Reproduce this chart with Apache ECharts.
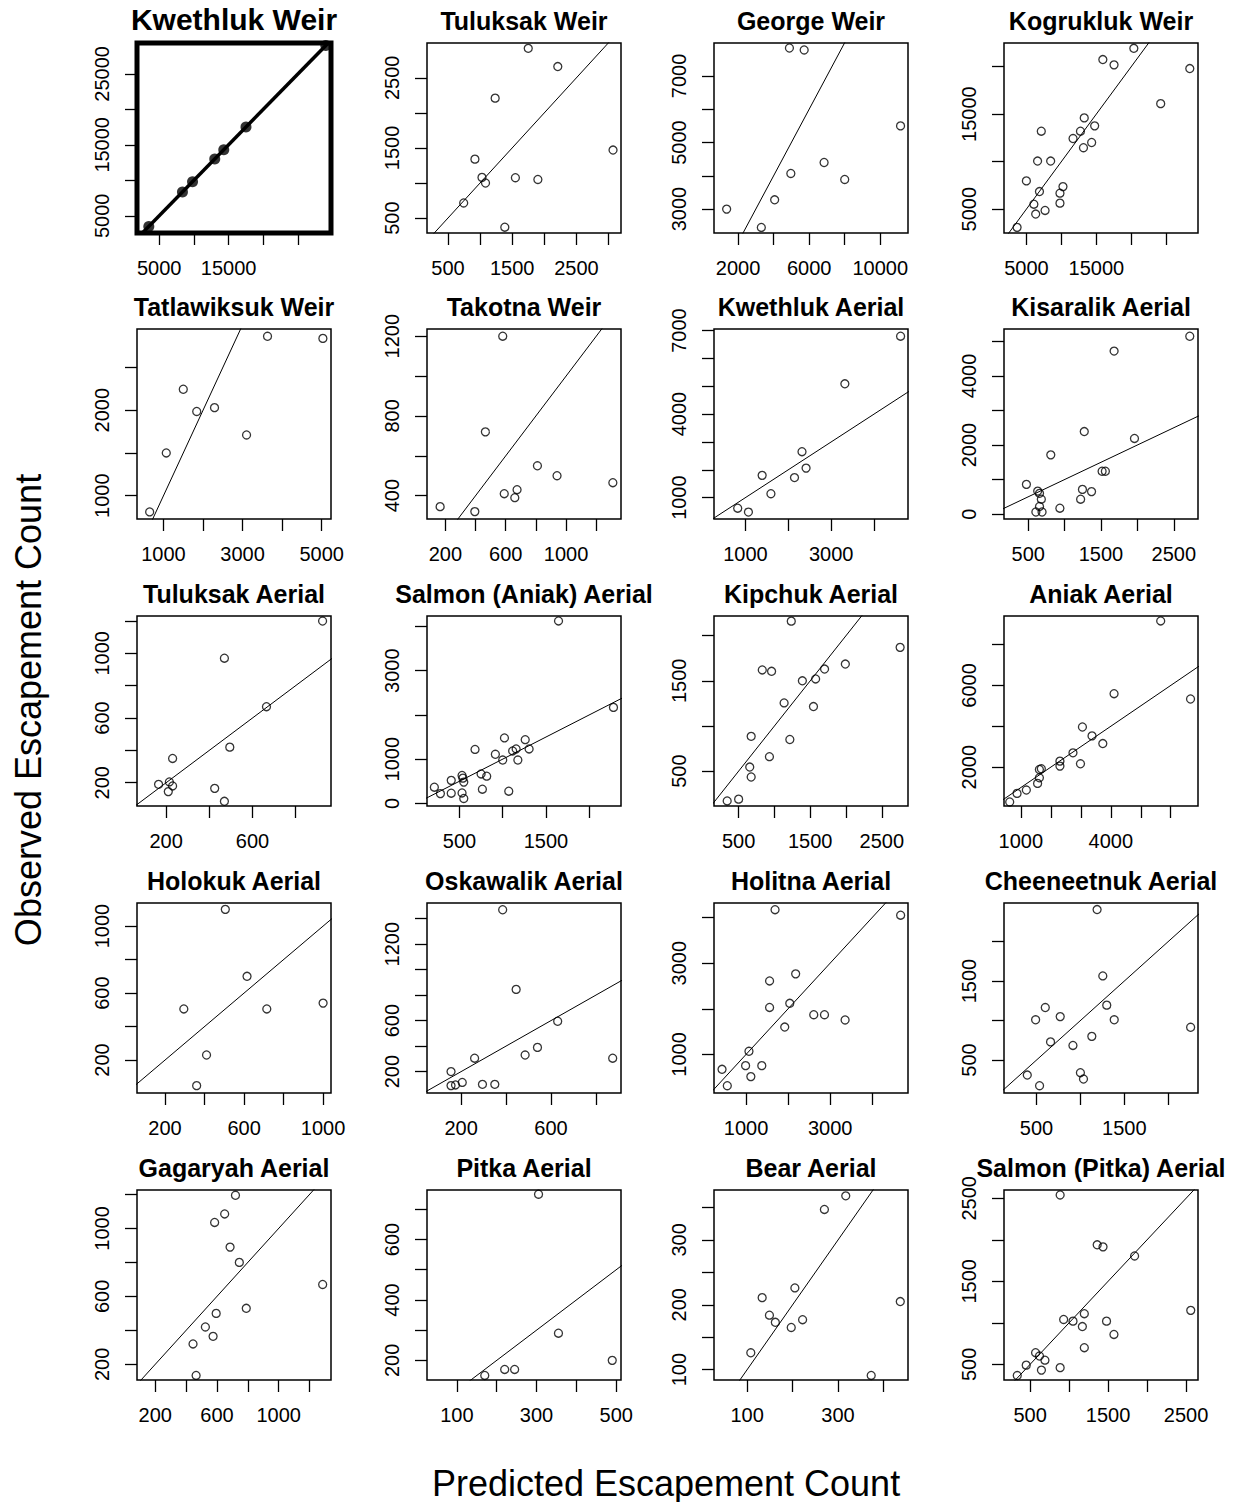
<!DOCTYPE html>
<html>
<head>
<meta charset="utf-8">
<title>Observed vs Predicted Escapement Count</title>
<script src="https://cdn.jsdelivr.net/npm/echarts@6.0.0/dist/echarts.min.js"></script>
<style>
  html, body { margin: 0; padding: 0; background: #fff; }
  #main { width: 1233px; height: 1502px; }
</style>
</head>
<body>
<div id="main"></div>
<script>
// one entry per panel, read left to right, top to bottom
var siteNames = [
  'Kwethluk Weir', 'Tuluksak Weir', 'George Weir', 'Kogrukluk Weir',
  'Tatlawiksuk Weir', 'Takotna Weir', 'Kwethluk Aerial', 'Kisaralik Aerial',
  'Tuluksak Aerial', 'Salmon (Aniak) Aerial', 'Kipchuk Aerial', 'Aniak Aerial',
  'Holokuk Aerial', 'Oskawalik Aerial', 'Holitna Aerial', 'Cheeneetnuk Aerial',
  'Gagaryah Aerial', 'Pitka Aerial', 'Bear Aerial', 'Salmon (Pitka) Aerial'
];

// predicted escapement (x)
var predicted = [
  [3500, 8350, 9800, 13000, 14300, 17500, 29000],
  [1750, 2210, 1235, 3070, 920, 1030, 1085, 1550, 1900, 745, 1385],
  [1360, 3310, 4060, 4970, 4890, 5720, 6840, 8000, 11140],
  [3670, 20360, 15930, 17530, 28360, 24200, 13270, 14760, 7130, 12730, 11670, 14330, 13160, 6600, 8470, 5000, 10230, 9800, 6870, 6070, 9800, 6330, 7670],
  [650, 1070, 1500, 1840, 2290, 3100, 3630, 5030],
  [165, 395, 465, 580, 590, 660, 675, 810, 940, 1310],
  [820, 1070, 1390, 1595, 2145, 2320, 2415, 3320, 4620],
  [475, 630, 655, 680, 655, 605, 690, 935, 810, 1220, 1245, 1370, 1270, 1515, 1560, 1680, 1960, 2720],
  [165, 210, 215, 230, 230, 425, 470, 495, 470, 665, 925],
  [210, 280, 405, 405, 530, 540, 550, 530, 550, 680, 750, 815, 765, 915, 1000, 1020, 1070, 1115, 1155, 1175, 1260, 1305, 1645, 2280],
  [340, 500, 655, 675, 675, 930, 830, 960, 1135, 1215, 1235, 1390, 1575, 1545, 1700, 1990, 2755],
  [630, 875, 1185, 1560, 1620, 1620, 1685, 2305, 2305, 2740, 2990, 3055, 3375, 3735, 4110, 5665, 6660],
  [295, 360, 410, 505, 615, 715, 1000],
  [155, 155, 175, 205, 260, 295, 350, 385, 445, 485, 540, 630, 875],
  [430, 555, 990, 1115, 1070, 1375, 1560, 1560, 1690, 1920, 2040, 2180, 2610, 2865, 3355, 4675],
  [395, 535, 490, 600, 660, 770, 915, 1000, 1035, 1130, 1190, 1255, 1300, 1385, 2255],
  [465, 445, 525, 575, 595, 790, 745, 685, 585, 650, 720, 1285],
  [170, 220, 245, 305, 355, 490],
  [108, 133, 149, 162, 197, 205, 222, 270, 317, 373, 437],
  [335, 450, 570, 620, 690, 645, 885, 885, 930, 1050, 1170, 1195, 1195, 1360, 1435, 1480, 1575, 1840, 2560]
];

// observed escapement (y)
var observed = [
  [3500, 8350, 9800, 13000, 14300, 17500, 29000],
  [2920, 2660, 2210, 1470, 1340, 1080, 1000, 1075, 1050, 715, 370],
  [3000, 2450, 3280, 4070, 7840, 7780, 4400, 3890, 5500],
  [3080, 21920, 20740, 20180, 19790, 16100, 14600, 13760, 13200, 13200, 12430, 12010, 11460, 10060, 10060, 7970, 7370, 6680, 6850, 5520, 5630, 4480, 4860],
  [810, 1500, 2245, 1985, 2030, 1710, 2865, 2840],
  [345, 320, 720, 1200, 410, 390, 430, 550, 500, 465],
  [620, 480, 1800, 1140, 1720, 2650, 2060, 5090, 6800],
  [860, 665, 600, 430, 220, 60, 60, 170, 1715, 430, 715, 650, 2390, 1240, 1240, 4720, 2190, 5150],
  [190, 145, 205, 180, 350, 165, 85, 420, 970, 670, 1200],
  [365, 220, 230, 520, 630, 570, 480, 235, 110, 1220, 665, 615, 320, 1110, 980, 1480, 275, 1185, 1230, 980, 1440, 1230, 4125, 2170],
  [170, 190, 545, 435, 885, 660, 1620, 1605, 1255, 850, 2160, 1500, 1520, 1215, 1630, 1685, 1870],
  [295, 715, 880, 1205, 1480, 1885, 1920, 2295, 2050, 2700, 2165, 3965, 3530, 3155, 5595, 9155, 5335],
  [505, 47, 230, 1100, 700, 505, 540],
  [200, 90, 95, 115, 305, 100, 100, 1470, 845, 330, 390, 595, 305],
  [675, 315, 755, 515, 1070, 755, 2030, 2610, 4170, 1600, 2120, 2765, 1870, 1870, 1755, 4050],
  [310, 175, 1010, 1165, 730, 1050, 685, 340, 260, 800, 2405, 1565, 1195, 1010, 915],
  [135, 320, 420, 365, 500, 530, 800, 890, 1035, 1085, 1195, 670],
  [150, 170, 170, 750, 290, 200],
  [126, 211, 184, 173, 165, 226, 177, 347, 368, 91, 205],
  [365, 490, 640, 600, 550, 430, 460, 2540, 1040, 1020, 955, 1110, 700, 1940, 1915, 1020, 860, 1805, 1150]
];

// tick marks and the labels R kept on them
var xTicks = [
  [5000, 10000, 15000, 20000, 25000], [500, 1000, 1500, 2000, 2500, 3000],
  [2000, 4000, 6000, 8000, 10000], [5000, 10000, 15000, 20000, 25000],
  [1000, 2000, 3000, 4000, 5000], [200, 400, 600, 800, 1000, 1200],
  [1000, 2000, 3000, 4000], [500, 1000, 1500, 2000, 2500],
  [200, 400, 600, 800], [500, 1000, 1500, 2000],
  [500, 1000, 1500, 2000, 2500], [1000, 2000, 3000, 4000, 5000, 6000],
  [200, 400, 600, 800, 1000], [200, 400, 600, 800],
  [1000, 2000, 3000, 4000], [500, 1000, 1500, 2000],
  [200, 400, 600, 800, 1000, 1200], [100, 200, 300, 400, 500],
  [100, 200, 300, 400], [500, 1000, 1500, 2000, 2500]
];
var xTickLabels = [
  [5000, 15000], [500, 1500, 2500], [2000, 6000, 10000], [5000, 15000],
  [1000, 3000, 5000], [200, 600, 1000], [1000, 3000], [500, 1500, 2500],
  [200, 600], [500, 1500], [500, 1500, 2500], [1000, 4000],
  [200, 600, 1000], [200, 600], [1000, 3000], [500, 1500],
  [200, 600, 1000], [100, 300, 500], [100, 300], [500, 1500, 2500]
];
var yTicks = [
  [5000, 10000, 15000, 20000, 25000], [500, 1000, 1500, 2000, 2500],
  [3000, 4000, 5000, 6000, 7000], [5000, 10000, 15000, 20000],
  [1000, 1500, 2000, 2500], [400, 600, 800, 1000, 1200],
  [1000, 2000, 3000, 4000, 5000, 6000, 7000], [0, 1000, 2000, 3000, 4000, 5000],
  [200, 400, 600, 800, 1000, 1200], [0, 1000, 2000, 3000, 4000],
  [500, 1000, 1500, 2000], [2000, 4000, 6000, 8000],
  [200, 400, 600, 800, 1000], [200, 400, 600, 800, 1000, 1200, 1400],
  [1000, 2000, 3000, 4000], [500, 1000, 1500, 2000],
  [200, 400, 600, 800, 1000, 1200], [200, 300, 400, 500, 600, 700],
  [100, 150, 200, 250, 300, 350], [500, 1000, 1500, 2000, 2500]
];
var yTickLabels = [
  [5000, 15000, 25000], [500, 1500, 2500], [3000, 5000, 7000], [5000, 15000],
  [1000, 2000], [400, 800, 1200], [1000, 4000, 7000], [0, 2000, 4000],
  [200, 600, 1000], [0, 1000, 3000], [500, 1500], [2000, 6000],
  [200, 600, 1000], [200, 600, 1200], [1000, 3000], [500, 1500],
  [200, 600, 1000], [200, 400, 600], [100, 200, 300], [500, 1500, 2500]
];

// plotting ranges of each panel
var xLimits = [
  [1800, 29750], [174, 3194], [649, 11559], [1800, 29533],
  [330, 5235], [78, 1364], [267, 4793], [167, 2833],
  [65, 964], [125, 2367], [156, 2865], [440, 6909],
  [58, 1040], [48, 912], [239, 4850], [130, 2339],
  [82, 1339], [25, 512], [27, 454], [165, 2653]
];
var yLimits = [
  [2570, 29350], [287, 2996], [2282, 7990], [2488, 22480],
  [727, 2950], [283, 1236], [232, 7058], [-143, 5360],
  [56, 1231], [-60, 4237], [114, 2217], [98, 9398],
  [3, 1138], [32, 1523], [156, 4317], [83, 2488],
  [108, 1226], [135, 764], [84, 377], [311, 2600]
];

var myChart = echarts.init(document.getElementById('main'), null, { renderer: 'svg' });

var colLeft = [137, 427, 714, 1004];
var rowTop = [43, 329, 616, 903, 1190];
var boxW = 194, boxH = 190;
var font = '"Liberation Sans", Arial, Helvetica, sans-serif';

// R prints plain numbers, no thousands separator
function plain(v) { return String(v); }

var grids = [], xAxes = [], yAxes = [], series = [], graphics = [];

siteNames.forEach(function (name, i) {
  var r = Math.floor(i / 4), c = i % 4;
  var heavy = i === 0; // the reference site is drawn bold

  grids.push({
    left: colLeft[c], top: rowTop[r], width: boxW, height: boxH,
    show: true, borderColor: '#000', borderWidth: heavy ? 5 : 1.5,
    backgroundColor: 'transparent', outerBoundsMode: 'none'
  });

  xAxes.push({
    type: 'value', gridIndex: i,
    min: xLimits[i][0], max: xLimits[i][1],
    axisLine: { show: false, onZero: false },
    splitLine: { show: false },
    axisTick: { show: true, length: 12, lineStyle: { color: '#000', width: 1.3 }, customValues: xTicks[i] },
    axisLabel: { customValues: xTickLabels[i], formatter: plain, color: '#000', fontSize: 20, fontFamily: font, margin: 25 }
  });

  yAxes.push({
    type: 'value', gridIndex: i,
    min: yLimits[i][0], max: yLimits[i][1],
    axisLine: { show: false, onZero: false },
    splitLine: { show: false },
    axisTick: { show: true, length: 12, lineStyle: { color: '#000', width: 1.3 }, customValues: yTicks[i] },
    axisLabel: { customValues: yTickLabels[i], formatter: plain, rotate: 90, color: '#000', fontSize: 20, fontFamily: font, margin: 25 }
  });

  var pts = predicted[i].map(function (p, k) { return [p, observed[i][k]]; });
  series.push({
    type: 'scatter', xAxisIndex: i, yAxisIndex: i,
    data: pts,
    symbol: 'circle', symbolSize: heavy ? 11 : 8,
    itemStyle: heavy
      ? { color: '#000' }
      : { color: 'rgba(0,0,0,0)', borderColor: '#000', borderWidth: 1.3 },
    silent: true
  });

  // 1:1 line across the panel
  var lo = Math.min(xLimits[i][0], yLimits[i][0]);
  var hi = Math.max(xLimits[i][1], yLimits[i][1]);
  series.push({
    type: 'line', xAxisIndex: i, yAxisIndex: i,
    data: [[lo, lo], [hi, hi]],
    symbol: 'none', clip: true, silent: true,
    lineStyle: { color: '#000', width: heavy ? 3.5 : 1 }
  });

  graphics.push({
    type: 'text',
    x: colLeft[c] + boxW / 2,
    y: rowTop[r] - (heavy ? 24 : 22),
    style: {
      text: name,
      font: 'bold ' + (heavy ? 30 : 25) + 'px ' + font,
      fill: '#000', textAlign: 'center', textVerticalAlign: 'middle'
    }
  });
});

graphics.push({
  type: 'text', x: 28, y: 710, rotation: Math.PI / 2,
  style: {
    text: 'Observed Escapement Count', font: '36px ' + font,
    fill: '#000', textAlign: 'center', textVerticalAlign: 'middle'
  }
});
graphics.push({
  type: 'text', x: 666, y: 1483,
  style: {
    text: 'Predicted Escapement Count', font: '36px ' + font,
    fill: '#000', textAlign: 'center', textVerticalAlign: 'middle'
  }
});

var option = {
  backgroundColor: '#fff',
  animation: false,
  grid: grids,
  xAxis: xAxes,
  yAxis: yAxes,
  series: series,
  graphic: graphics
};

myChart.setOption(option);
</script>
</body>
</html>
